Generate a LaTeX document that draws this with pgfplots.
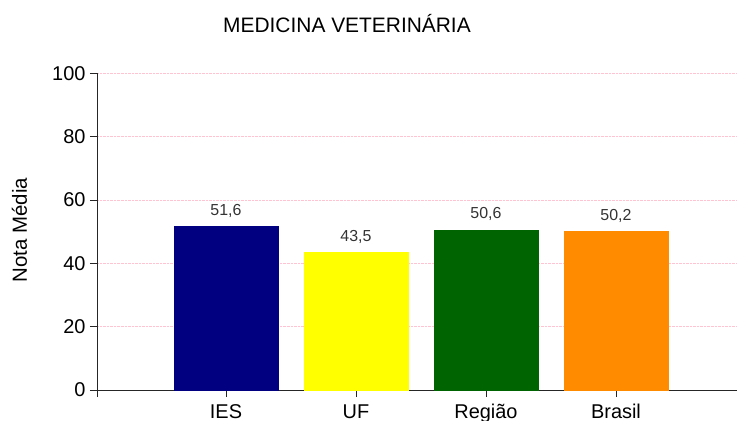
\documentclass[border=0pt]{standalone}
\usepackage{pgfplots}
\pgfplotsset{compat=1.18}
\usepackage{fontspec}
\setmainfont{Liberation Sans}
\definecolor{iescol}{HTML}{000080}
\definecolor{ufcol}{HTML}{FFFF00}
\definecolor{regcol}{HTML}{006400}
\definecolor{bracol}{HTML}{FF8C00}
\definecolor{gridpink}{HTML}{FFC4D2}
\definecolor{vallab}{HTML}{333333}
\begin{document}
\begin{tikzpicture}
\begin{axis}[
  at={(0,0)}, anchor=south west,
  scale only axis, width=640bp, height=316.5bp,
  xmin=-0.9923, xmax=3.9308, ymin=0, ymax=100,
  xtick={0,1,2,3}, xticklabels={IES,UF,Região,Brasil},
  extra x ticks={-0.9923}, extra x tick labels={},
  ytick={0,20,40,60,80,100},
  axis lines=left, axis line style={-, black!85, line width=0.8pt},
  tick align=outside, major tick length=7bp,
  tick style={black!85, line width=0.8pt},
  ymajorgrids, grid style={dash pattern=on 0.7pt off 0.7pt, gridpink, line width=0.7pt},
  /pgf/number format/assume math mode=true,
  tick label style={font=\fontsize{20}{24}\selectfont},
  x tick label style={text height=15bp, text depth=4bp, inner sep=0pt, yshift=-6bp},
  y tick label style={xshift=-1bp},
  ylabel={Nota Média},
  every axis y label/.style={at={(axis description cs:-0.1094,0.5055)}, rotate=90, anchor=base, font=\fontsize{20.5}{24}\selectfont},
  title={MEDICINA VETERINÁRIA},
  every axis title/.style={at={(axis description cs:0.3906,1.128)}, anchor=base, font=\fontsize{21}{25}\selectfont},
  ybar, bar width=104bp, bar shift=0pt,
  nodes near coords,
  every node near coord/.append style={anchor=base, yshift=11bp, font=\fontsize{16}{19}\selectfont, text=vallab,
    /pgf/number format/.cd, use comma, fixed, fixed zerofill, precision=1},
]
\addplot[fill=iescol, draw=iescol] coordinates {(0,51.6)};
\addplot[fill=ufcol, draw=ufcol] coordinates {(1,43.5)};
\addplot[fill=regcol, draw=regcol] coordinates {(2,50.6)};
\addplot[fill=bracol, draw=bracol] coordinates {(3,50.2)};
\end{axis}
\pgfresetboundingbox
\useasboundingbox (-97bp,-31bp) rectangle (640bp,390bp);
\end{tikzpicture}
\end{document}
